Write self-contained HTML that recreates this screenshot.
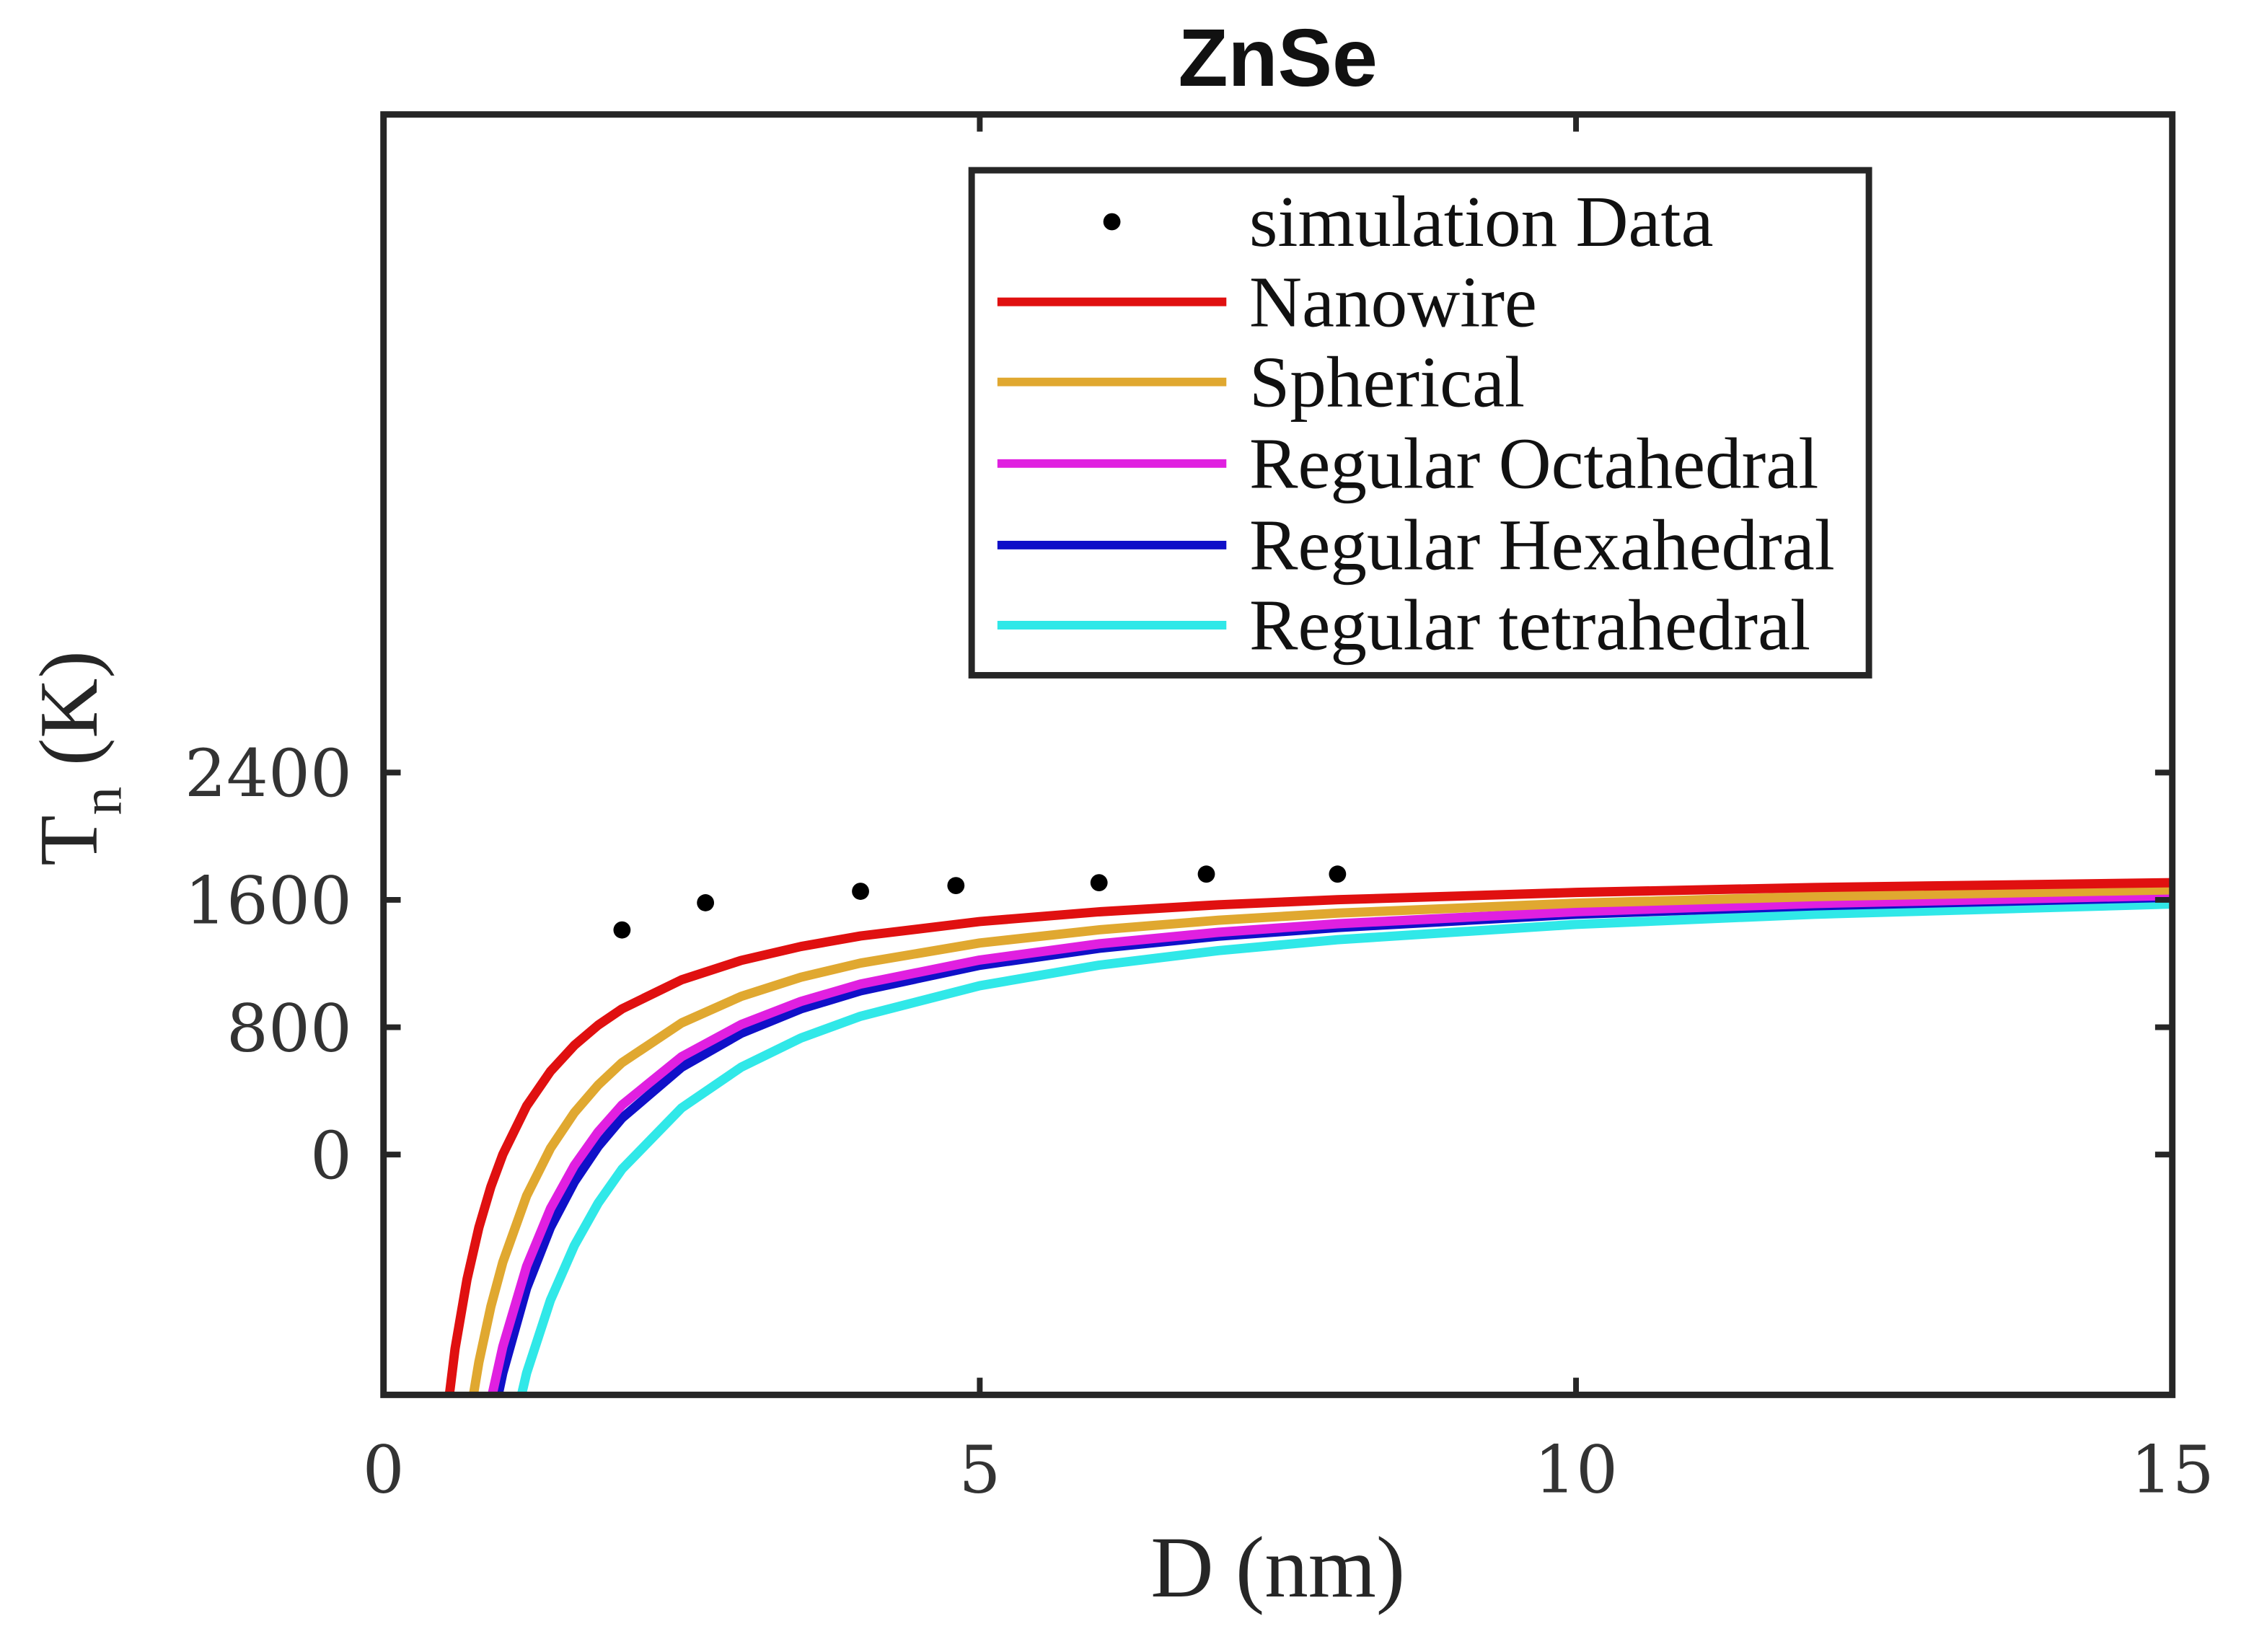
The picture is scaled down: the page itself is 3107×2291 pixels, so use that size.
<!DOCTYPE html>
<html><head><meta charset="utf-8"><style>
html,body{margin:0;padding:0;background:#fff;overflow:hidden;width:3107px;height:2291px;}
svg{display:block;}
</style></head><body>
<svg id="chart" width="3107" height="2291" viewBox="0 0 3107 2291" xmlns="http://www.w3.org/2000/svg">
<defs><clipPath id="pc"><rect x="536" y="160" width="2500" height="1790"/></clipPath></defs>
<rect width="3107" height="2291" fill="#fff"/>
<g transform="scale(0.992)">
<text x="1786" y="120" text-anchor="middle" font-family="Liberation Sans, sans-serif" font-weight="bold" font-size="114" fill="#111">ZnSe</text>
<g id="marks" clip-path="url(#pc)"></g>
<rect x="536" y="160" width="2500" height="1790" fill="none" stroke="#262626" stroke-width="9"/>
<g id="ticks"></g>
<text x="1786" y="2232" text-anchor="middle" font-family="Liberation Serif, serif" font-size="122" fill="#262626">D (nm)</text>
<text transform="translate(135,1060) rotate(-90)" text-anchor="middle" font-family="Liberation Serif, serif" font-size="116" fill="#262626">T<tspan font-size="80" dy="34">n</tspan><tspan dy="-34"> (K)</tspan></text>
<g>
<rect x="1358" y="238" width="1254" height="706" fill="#fff" stroke="#262626" stroke-width="9"/>
<g id="legend-items"></g>
</g>
</g>
</svg>
<script>
const xTicks=[0,5,10,15];
const yTicks=[0,800,1600,2400];
const simD=[2,2.7,4,4.8,6,6.9,8];
const simT=[1411,1582,1654,1690,1708,1762,1762];
const curveD=[0.5,0.6,0.7,0.8,0.9,1.0,1.2,1.4,1.6,1.8,2,2.5,3,3.5,4,5,6,7,8,10,12,15];
const nanowire=[-1830,-1220,-784,-458,-203,0,305,523,686,813,915,1098,1220,1307,1373,1464,1525,1569,1601,1647,1678,1708];
const spherical=[-3184,-2348,-1751,-1304,-956,-677,-259,39,263,437,577,827,994,1114,1203,1329,1412,1472,1517,1579,1621,1663];
const octahedral=[-4246,-3233,-2510,-1968,-1546,-1208,-702,-340,-69,142,311,615,817,962,1071,1222,1324,1396,1450,1526,1577,1627];
const hexahedral=[-4576,-3508,-2746,-2174,-1729,-1373,-839,-458,-172,51,229,549,762,915,1029,1189,1296,1372,1426,1510,1563,1616];
const tetrahedral=[-5856,-4575,-3660,-2974,-2440,-2013,-1373,-915,-572,-305,-92,293,549,732,869,1061,1190,1281,1350,1446,1510,1574];
const seriesNames=['Nanowire','Spherical','Regular Octahedral','Regular Hexahedral','Regular tetrahedral'];

const NS='http://www.w3.org/2000/svg';
const X0=536,X1=3036,Y0=160,Y1=1950;
const xMin=0,xMax=15,yMin=-1510,yMax=6535;
function sx(v){return X0+(v-xMin)/(xMax-xMin)*(X1-X0);}
function sy(v){return Y1-(v-yMin)/(yMax-yMin)*(Y1-Y0);}
function mk(tag,attrs,parent){const e=document.createElementNS(NS,tag);for(const k in attrs)e.setAttribute(k,attrs[k]);parent.appendChild(e);return e;}

const marks=document.getElementById('marks');
const ticks=document.getElementById('ticks');
const series=[nanowire,spherical,octahedral,hexahedral,tetrahedral];
const colors=['#e01010','#e0a830','#e020e0','#1010c8','#30e8e8'];
const order=[4,3,2,1,0];
order.forEach(i=>{
  const pts=curveD.map((d,j)=>sx(d).toFixed(1)+','+sy(series[i][j]).toFixed(1)).join(' ');
  const p=mk('polyline',{points:pts,fill:'none',stroke:colors[i],'stroke-width':13,'stroke-linejoin':'round'},marks);
  
  
});
simD.forEach((d,i)=>{
  const c=mk('circle',{cx:sx(d),cy:sy(simT[i]),r:12,fill:'#000'},marks);
  
  
});
xTicks.forEach(v=>{
  const x=sx(v);
  if(v>xMin&&v<xMax){
    const t1=mk('line',{x1:x,y1:Y1,x2:x,y2:Y1-24,stroke:'#262626','stroke-width':8},ticks);
    
    
    const t2=mk('line',{x1:x,y1:Y0,x2:x,y2:Y0+24,stroke:'#262626','stroke-width':8},ticks);
    
    
  }
  const l=mk('text',{x:x,y:2086,'text-anchor':'middle','font-family':'DejaVu Serif, serif','font-size':92,fill:'#333'},ticks);
  l.textContent=v;
  
  
});
yTicks.forEach(v=>{
  const y=sy(v);
  const t1=mk('line',{x1:X0,y1:y,x2:X0+24,y2:y,stroke:'#262626','stroke-width':8},ticks);
  
  
  const t2=mk('line',{x1:X1,y1:y,x2:X1-24,y2:y,stroke:'#262626','stroke-width':8},ticks);
  
  
  const l=mk('text',{x:492,y:y+33,'text-anchor':'end','font-family':'DejaVu Serif, serif','font-size':92,fill:'#333'},ticks);
  l.textContent=v;
  
  
});
const leg=document.getElementById('legend-items');
const rowY=[310,422,534,648,762,874];
const labels=['simulation Data'].concat(seriesNames);
labels.forEach((lab,i)=>{
  const y=rowY[i];
  if(i===0){
    const c=mk('circle',{cx:1554,cy:y,r:12,fill:'#000'},leg);
    
    
  } else {
    const ln=mk('line',{x1:1394,y1:y,x2:1714,y2:y,stroke:colors[i-1],'stroke-width':12},leg);
    
    
  }
  const t=mk('text',{x:1746,y:y+34,'font-family':'Liberation Serif, serif','font-size':102,fill:'#111'},leg);
  t.textContent=lab;
  
  
});
</script>
</body></html>
